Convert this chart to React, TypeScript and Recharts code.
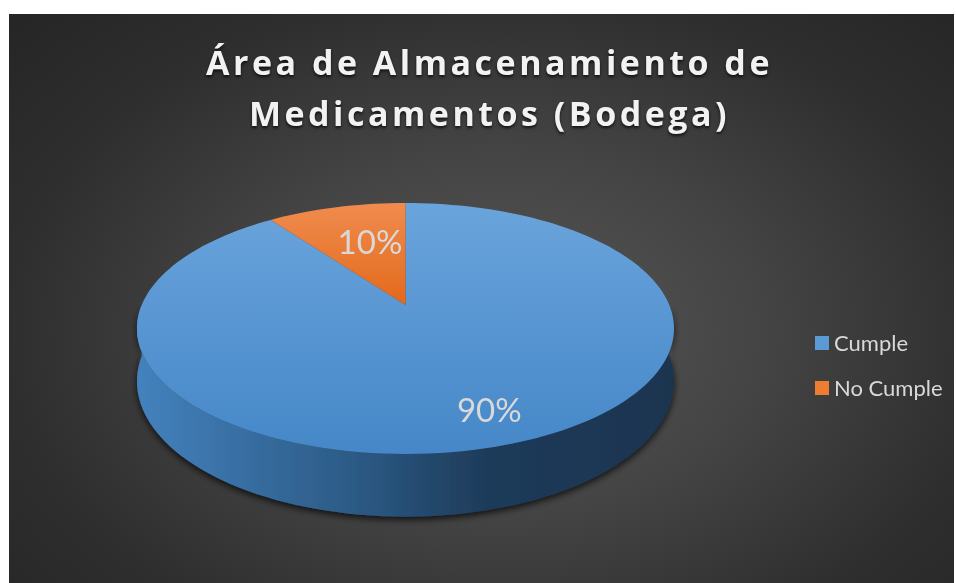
import * as React from "react"
import { PieChart, Pie, Cell, Legend } from "recharts"

// chart data
const categories = ["Cumple", "No Cumple"]
const values = [90, 10]
const title = ["Área de Almacenamiento de", "Medicamentos (Bodega)"]

const legendColors = ["#5b9bd5", "#ed7d31"]
const topFills = ["url(#topBlue)", "url(#topOrange)"]
const wallFills = ["url(#wallBlue)", "url(#wallOrange)"]

// 3D look: tilt squashes the disc, persp shrinks the far half, depth is the wall height
const TILT = 0.459
const PERSP = 0.187
const DEPTH = 51

function project(cx: number, cy: number, r: number, angle: number, frac = 1, drop = 0) {
  const t = (angle * Math.PI) / 180
  const u = Math.cos(t) * frac
  const v = Math.sin(t) * frac
  const k = 1 + PERSP * v
  return [cx + (r * u) / k, cy - (r * TILT * v) / k + drop / k]
}

function arcPoints(cx: number, cy: number, r: number, a: number, b: number, drop = 0) {
  const steps = Math.max(6, Math.ceil(Math.abs(b - a) / 2))
  const pts: number[][] = []
  for (let i = 0; i <= steps; i++) {
    pts.push(project(cx, cy, r, a + ((b - a) * i) / steps, 1, drop))
  }
  return pts
}

const toPath = (pts: number[][]) =>
  pts.map((p, i) => `${i === 0 ? "M" : "L"}${p[0].toFixed(2)},${p[1].toFixed(2)}`).join(" ") + " Z"

function Sector3D(props: any) {
  const { cx, cy, outerRadius, startAngle, endAngle, fill } = props
  const idx = Math.max(0, categories.indexOf(props.name ?? props.payload?.name))
  const lo = Math.min(startAngle, endAngle)
  const hi = Math.max(startAngle, endAngle)

  // front wall, only the part facing the viewer
  const walls: string[] = []
  for (const k of [-360, 0, 360]) {
    const a = Math.max(lo, -180 + k)
    const b = Math.min(hi, k)
    if (a < b) {
      const top = arcPoints(cx, cy, outerRadius, a, b)
      const bottom = arcPoints(cx, cy, outerRadius, b, a, DEPTH)
      walls.push(toPath([...top, ...bottom]))
    }
  }

  const face = [project(cx, cy, outerRadius, 0, 0), ...arcPoints(cx, cy, outerRadius, startAngle, endAngle)]

  return (
    <g>
      {walls.map((d, i) => (
        <path key={i} d={d} fill={wallFills[idx]} filter="url(#pieShadow)" />
      ))}
      <path d={toPath(face)} fill={fill} />
    </g>
  )
}

function renderLabel(props: any) {
  const { cx, cy, outerRadius, midAngle, percent, index } = props
  const frac = index === 0 ? 0.78 : 0.62
  const [x, y] = project(cx, cy, outerRadius, midAngle, frac)
  return (
    <text
      x={x + 10}
      y={y}
      fill="#d9d9d9"
      textAnchor="middle"
      dominantBaseline="central"
      style={{ fontFamily: "Lato, sans-serif", fontSize: 33 }}
    >
      {`${Math.round(percent * 100)}%`}
    </text>
  )
}

function renderLegend(props: any) {
  const { payload } = props
  return (
    <div>
      {(payload || []).map((entry: any, i: number) => (
        <div key={i} style={{ display: "flex", alignItems: "center", height: 45 }}>
          <span
            style={{
              display: "inline-block",
              width: 14,
              height: 14,
              background: legendColors[i],
              marginRight: 5,
            }}
          />
          <span style={{ color: "#d9d9d9", fontFamily: "Lato, sans-serif", fontSize: 22 }}>
            {entry.value}
          </span>
        </div>
      ))}
    </div>
  )
}

export default function App() {
  const data = categories.map((name, i) => ({ name, value: values[i] }))

  return (
    <div style={{ position: "fixed", left: 0, top: 0, width: 956, height: 583, background: "#fff" }}>
      <div
        style={{
          position: "absolute",
          left: 9,
          top: 14,
          width: 945,
          height: 569,
          background:
            "radial-gradient(ellipse 70% 80% at 52% 56%, #575757 0%, #444 40%, #2e2e2e 75%, #262626 100%)",
        }}
      >
        <div
          style={{
            position: "absolute",
            left: 8,
            top: 23,
            width: 945,
            textAlign: "center",
            color: "#f2f2f2",
            fontFamily: "'Open Sans', sans-serif",
            fontWeight: 700,
            fontSize: 34,
            lineHeight: "51px",
            letterSpacing: 3.5,
            textShadow: "0 2px 3px rgba(0,0,0,0.7)",
          }}
        >
          {title.map((t) => (
            <div key={t}>{t}</div>
          ))}
        </div>
        <PieChart width={945} height={569} margin={{ top: 0, right: 0, bottom: 0, left: 0 }}>
          <defs>
            <linearGradient id="topBlue" x1="0" y1="0" x2="0" y2="1">
              <stop offset="0%" stopColor="#6aa4dc" />
              <stop offset="100%" stopColor="#4587c8" />
            </linearGradient>
            <linearGradient id="topOrange" x1="0" y1="0" x2="0" y2="1">
              <stop offset="0%" stopColor="#f08c4e" />
              <stop offset="100%" stopColor="#e3691b" />
            </linearGradient>
            <linearGradient id="wallBlue" x1="0" y1="0" x2="1" y2="0">
              <stop offset="0%" stopColor="#4482bd" />
              <stop offset="15%" stopColor="#3a73a9" />
              <stop offset="40%" stopColor="#2c5b86" />
              <stop offset="65%" stopColor="#1e3b5a" />
              <stop offset="100%" stopColor="#1a3450" />
            </linearGradient>
            <linearGradient id="wallOrange" x1="0" y1="0" x2="1" y2="0">
              <stop offset="0%" stopColor="#b85a1c" />
              <stop offset="100%" stopColor="#7a3a10" />
            </linearGradient>
            <filter id="pieShadow" x="-10%" y="-20%" width="120%" height="150%">
              <feDropShadow dx="0" dy="3" stdDeviation="3.5" floodColor="#000" floodOpacity="0.75" />
            </filter>
          </defs>
          <Pie
            data={data}
            dataKey="value"
            nameKey="name"
            cx={396.5}
            cy={291}
            outerRadius={263.8}
            startAngle={90}
            endAngle={-270}
            stroke="none"
            shape={Sector3D}
            label={renderLabel}
            labelLine={false}
            isAnimationActive={false}
          >
            {data.map((entry, i) => (
              <Cell key={entry.name} fill={topFills[i]} />
            ))}
          </Pie>
          <Legend
            layout="vertical"
            align="right"
            verticalAlign="top"
            content={renderLegend}
            wrapperStyle={{ left: 806, top: 306, width: 140 }}
          />
        </PieChart>
      </div>
    </div>
  )
}
